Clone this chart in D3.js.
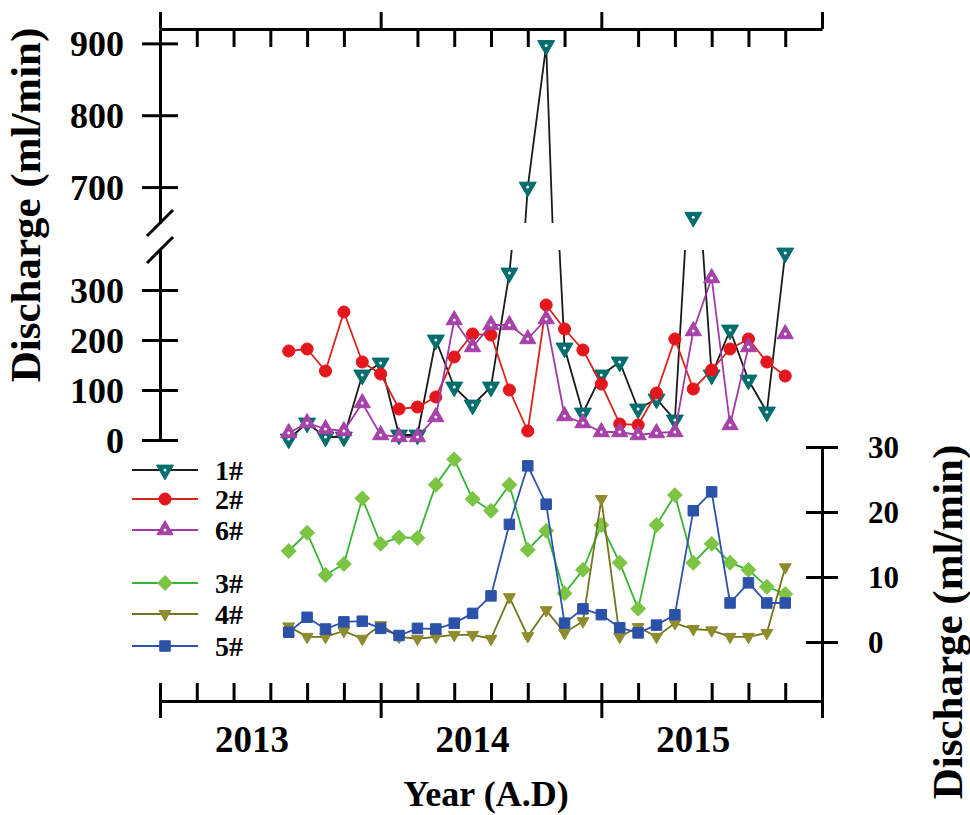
<!DOCTYPE html>
<html>
<head>
<meta charset="utf-8">
<script src="https://cdn.jsdelivr.net/npm/d3@7/dist/d3.min.js"></script>
<style>
  html, body { margin: 0; padding: 0; background: #fff; }
  svg text { font-family: "Liberation Serif", "Times New Roman", serif; font-weight: bold; fill: #000; }
</style>
</head>
<body>
<svg id="chart" width="970" height="815"></svg>
<script>
// ---------------- DATA ----------------
const months = ["2013-08","2013-09","2013-10","2013-11","2013-12",
  "2014-01","2014-02","2014-03","2014-04","2014-05","2014-06","2014-07","2014-08","2014-09","2014-10","2014-11","2014-12",
  "2015-01","2015-02","2015-03","2015-04","2015-05","2015-06","2015-07","2015-08","2015-09","2015-10","2015-11"];
const s1 = [2,34,6,6,130,154,10,10,200,106,70,106,334,700,897,184,54,130,156,62,82,40,658,130,220,120,56,374];
const s2 = [178,182,138,256,156,132,62,66,86,166,212,210,100,18,270,222,180,112,32,30,94,202,102,140,182,202,156,128];
const s6 = [14,34,22,18,74,10,6,6,46,240,186,230,230,202,242,48,34,16,16,10,14,16,218,324,30,186,null,212];
const s3 = [14.0,16.8,10.3,12.0,22.1,15.1,16.1,16.0,24.2,28.1,22.0,20.2,24.2,14.2,17.1,7.5,11.1,18.0,12.2,5.1,18.0,22.6,12.2,15.1,12.2,11.1,8.5,7.4];
const s4 = [2.4,0.8,0.8,1.7,0.5,2.6,0.8,0.5,0.8,1.1,1.1,0.5,6.9,0.9,4.9,1.4,3.2,22.0,0.8,2.3,0.8,2.9,2.0,1.8,0.8,0.8,1.4,11.5];
const s5 = [1.5,3.8,2.0,3.1,3.2,2.1,1.0,2.1,2.0,2.9,4.4,7.1,18.1,27.1,21.2,2.9,5.1,4.2,2.2,1.4,2.6,4.2,20.2,23.1,6.0,9.1,6.0,6.0];
const yearLabels = ["2013","2014","2015"];
const leftTicksUpper = [700,800,900];
const leftTicksLower = [0,100,200,300];
const rightTicks = [0,10,20,30];
const seriesNames = ["1#","2#","6#","3#","4#","5#"];

// ---------------- SETUP ----------------
const svg = d3.select("#chart");
const monthIndex = m => { const [y, mo] = m.split("-").map(Number); return (y - 2013) * 12 + (mo - 1); };

const x = d3.scaleLinear().domain([0, 36]).range([160, 822]);
const yLow = d3.scaleLinear().domain([0, 380]).range([440, 250]);
const yUp = d3.scaleLinear().domain([650, 920]).range([223, 29]);
const yR = d3.scaleLinear().domain([-9, 30]).range([700.5, 447]);
const xAxisY = 701;

const styles = {
  "1#": {line: "#1a1a1a", fill: "#006e6c", shape: "tdown", size: 125, dot: true},
  "2#": {line: "#d8261c", fill: "#e3161c", shape: "circle", size: 115},
  "6#": {line: "#a23aa5", fill: "#a742a9", shape: "tup", size: 115, dot: true},
  "3#": {line: "#34b634", fill: "#7cc443", shape: "diamond", size: 105},
  "4#": {line: "#74741e", fill: "#8e8c2c", shape: "tdown", size: 62},
  "5#": {line: "#2c52ae", fill: "#2b52a8", shape: "square", size: 110}
};

function symbolPath(st) {
  let type = d3.symbolCircle;
  if (st.shape === "tdown" || st.shape === "tup") type = d3.symbolTriangle;
  if (st.shape === "square" || st.shape === "diamond") type = d3.symbolSquare;
  return d3.symbol().type(type).size(st.size)();
}
function rot(st) {
  if (st.shape === "tdown") return 180;
  if (st.shape === "diamond") return 45;
  return 0;
}
function drawMarker(g, st, cx, cy) {
  g.append("path").attr("d", symbolPath(st))
    .attr("transform", `translate(${cx},${cy}) rotate(${rot(st)})`)
    .attr("fill", st.fill).attr("stroke", st.fill).attr("stroke-width", 1);
  if (st.dot) g.append("circle").attr("cx", cx).attr("cy", cy).attr("r", 1.5).attr("fill", "#fff");
}

const defs = svg.append("defs");
defs.append("clipPath").attr("id", "clipLow").append("rect").attr("x", 150).attr("y", 250).attr("width", 680).attr("height", 200);
defs.append("clipPath").attr("id", "clipUp").append("rect").attr("x", 150).attr("y", 29).attr("width", 680).attr("height", 194);

const mk = arr => arr.map((v, i) => ({m: monthIndex(months[i]), v}));

// ---------------- TOP PANEL SERIES ----------------
function topSeries(name, arr) {
  const st = styles[name];
  const data = mk(arr);
  const g = svg.append("g");
  const lineLow = d3.line().defined(d => d.v != null).x(d => x(d.m)).y(d => yLow(d.v));
  const lineUp = d3.line().defined(d => d.v != null).x(d => x(d.m)).y(d => yUp(d.v));
  g.append("path").datum(data).attr("d", lineLow).attr("fill", "none")
    .attr("stroke", st.line).attr("stroke-width", 1.8).attr("clip-path", "url(#clipLow)");
  g.append("path").datum(data).attr("d", lineUp).attr("fill", "none")
    .attr("stroke", st.line).attr("stroke-width", 1.8).attr("clip-path", "url(#clipUp)");
  data.filter(d => d.v != null).forEach(d => {
    const cy = d.v >= 650 ? yUp(d.v) : yLow(d.v);
    drawMarker(g, st, x(d.m), cy);
  });
}
topSeries("1#", s1);
topSeries("2#", s2);
topSeries("6#", s6);

// ---------------- BOTTOM PANEL SERIES ----------------
function botSeries(name, arr) {
  const st = styles[name];
  const data = mk(arr);
  const g = svg.append("g");
  const line = d3.line().defined(d => d.v != null).x(d => x(d.m)).y(d => yR(d.v));
  g.append("path").datum(data).attr("d", line).attr("fill", "none")
    .attr("stroke", st.line).attr("stroke-width", 1.8);
  data.filter(d => d.v != null).forEach(d => drawMarker(g, st, x(d.m), yR(d.v)));
}
botSeries("3#", s3);
botSeries("4#", s4);
botSeries("5#", s5);

// ---------------- AXES ----------------
function styleAxis(g, labels, fs) {
  g.selectAll("path.domain").attr("stroke", "#000").attr("stroke-width", 3);
  g.selectAll(".tick line").attr("stroke", "#000").attr("stroke-width", 3);
  if (labels) {
    g.selectAll(".tick text").attr("font-size", fs + "px")
      .attr("font-family", '"Liberation Serif", "Times New Roman", serif')
      .attr("font-weight", "bold").attr("fill", "#000");
  } else {
    g.selectAll(".tick text").remove();
  }
}

// Left upper segment
const gLU = svg.append("g").attr("transform", "translate(160,0)")
  .call(d3.axisLeft(yUp).tickValues(leftTicksUpper).tickSize(18).tickSizeOuter(0).tickPadding(18).tickFormat(d3.format("d")));
styleAxis(gLU, true, 36);
gLU.selectAll(".tick text").attr("dy", "0.34em");
const gLU2 = svg.append("g").attr("transform", "translate(160,0)")
  .call(d3.axisRight(yUp).tickValues(leftTicksUpper).tickSize(18).tickSizeOuter(0));
styleAxis(gLU2, false);
gLU2.select("path.domain").remove();

// Left lower segment
const gLL = svg.append("g").attr("transform", "translate(160,0)")
  .call(d3.axisLeft(yLow).tickValues(leftTicksLower).tickSize(18).tickSizeOuter(0).tickPadding(18).tickFormat(d3.format("d")));
styleAxis(gLL, true, 36);
gLL.selectAll(".tick text").attr("dy", "0.34em");
const gLL2 = svg.append("g").attr("transform", "translate(160,0)")
  .call(d3.axisRight(yLow).tickValues(leftTicksLower).tickSize(18).tickSizeOuter(0));
styleAxis(gLL2, false);
gLL2.select("path.domain").remove();

// Break marks
[yUp(650), yLow(380)].forEach(by => {
  svg.append("line").attr("x1", 147).attr("y1", by + 13).attr("x2", 173).attr("y2", by - 13)
    .attr("stroke", "#000").attr("stroke-width", 3);
});

// Top axis
const majorTicks = [0, 12, 24, 36];
const minorTicks = d3.range(2, 36, 2).filter(v => v % 12 !== 0);
const gT = svg.append("g").attr("transform", "translate(0,29)")
  .call(d3.axisTop(x).tickValues(majorTicks).tickSize(17).tickSizeOuter(0));
styleAxis(gT, false);
const gT2 = svg.append("g").attr("transform", "translate(0,29)")
  .call(d3.axisBottom(x).tickValues(minorTicks).tickSize(18).tickSizeOuter(0));
styleAxis(gT2, false);
gT2.select("path.domain").remove();

// Bottom axis
const gB = svg.append("g").attr("transform", `translate(0,${xAxisY})`)
  .call(d3.axisBottom(x).tickValues(majorTicks).tickSize(17).tickSizeOuter(0));
styleAxis(gB, false);
const gB2 = svg.append("g").attr("transform", `translate(0,${xAxisY})`)
  .call(d3.axisTop(x).tickValues(majorTicks.concat(minorTicks)).tickSize(18).tickSizeOuter(0));
styleAxis(gB2, false);
gB2.select("path.domain").remove();

svg.append("g").selectAll("text").data(yearLabels).join("text")
  .attr("x", (d, i) => x(i * 12 + 5)).attr("y", 752)
  .attr("text-anchor", "middle").attr("font-size", "37px").text(d => d);

// Right axis
const gR = svg.append("g").attr("transform", "translate(822,0)")
  .call(d3.axisRight(yR).tickValues(rightTicks).tickSize(16).tickSizeOuter(0).tickPadding(30).tickFormat(d3.format("d")));
styleAxis(gR, true, 31);
gR.selectAll(".tick text").attr("dy", "0.34em");
const gR2 = svg.append("g").attr("transform", "translate(822,0)")
  .call(d3.axisLeft(yR).tickValues(rightTicks).tickSize(16).tickSizeOuter(0));
styleAxis(gR2, false);
gR2.select("path.domain").remove();

// Titles
svg.append("text").attr("transform", "translate(40,205) rotate(-90)")
  .attr("text-anchor", "middle").attr("font-size", "43px").text("Discharge (ml/min)");
svg.append("text").attr("transform", "translate(962,622) rotate(-90)")
  .attr("text-anchor", "middle").attr("font-size", "43px").text("Discharge (ml/min)");
svg.append("text").attr("x", 486).attr("y", 806)
  .attr("text-anchor", "middle").attr("font-size", "36px").text("Year (A.D)");

// Legend
const legendRows = [470, 499, 530, 583, 614, 646];
const lg = svg.append("g");
seriesNames.forEach((name, i) => {
  const st = styles[name];
  const yy = legendRows[i];
  lg.append("line").attr("x1", 132).attr("x2", 198).attr("y1", yy).attr("y2", yy)
    .attr("stroke", st.line).attr("stroke-width", 2);
  drawMarker(lg, st, 165, yy);
  lg.append("text").attr("x", 215).attr("y", yy + 10).attr("font-size", "28px").text(name);
});
</script>
</body>
</html>
